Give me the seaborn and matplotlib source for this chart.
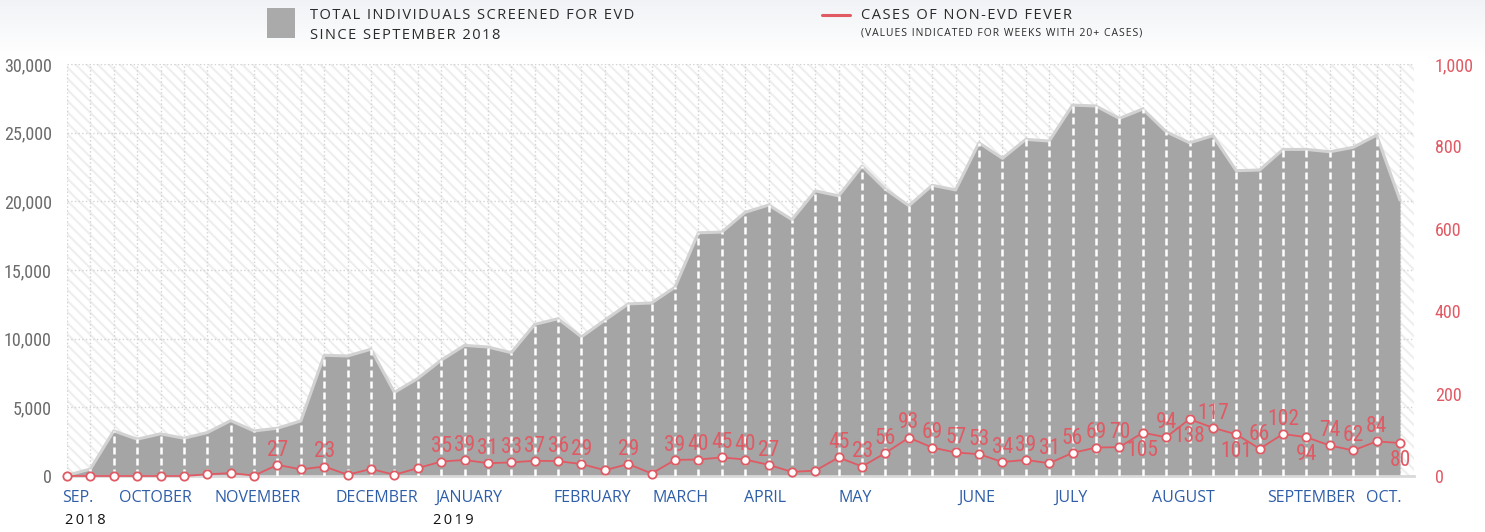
import numpy as np
import pandas as pd
import seaborn as sns
import matplotlib.pyplot as plt
from matplotlib import font_manager
from matplotlib.patches import Rectangle
from matplotlib.lines import Line2D
import matplotlib.transforms as mtransforms

# weekly values, Sep 2018 -> Oct 2019
screened = [50, 500, 3280, 2680, 3070, 2750, 3160, 4030, 3280, 3480,
            4010, 8790, 8740, 9230, 6090, 7100, 8430, 9510, 9390, 8980,
            11040, 11450, 10130, 11350, 12530, 12600, 13750, 17710, 17760, 19200,
            19730, 18670, 20760, 20400, 22560, 20880, 19680, 21170, 20830, 24260,
            23130, 24510, 24390, 27010, 26940, 26040, 26720, 25070, 24260, 24780,
            22230, 22280, 23780, 23780, 23610, 23930, 24820, 20090]
fever = [0, 0, 0, 0, 0, 0, 4, 7, 1, 27,
         16, 23, 3, 17, 3, 19, 35, 39, 31, 33,
         37, 36, 29, 14, 29, 6, 39, 40, 45, 40,
         27, 10, 13, 45, 23, 56, 93, 69, 57, 53,
         34, 39, 31, 56, 69, 70, 105, 94, 138, 117,
         101, 66, 102, 94, 74, 62, 84, 80]
month_names = ["SEP.", "OCTOBER", "NOVEMBER", "DECEMBER", "JANUARY", "FEBRUARY", "MARCH",
               "APRIL", "MAY", "JUNE", "JULY", "AUGUST", "SEPTEMBER", "OCT."]
month_centers = [0.47, 3.8, 8.15, 13.27, 17.17, 22.48, 26.24,
                 29.84, 33.7, 38.9, 42.94, 47.72, 53.2, 56.29]
month_starts = [2, 11, 15, 20, 24, 28, 33, 37, 41, 45, 50, 57]
years = ["2018", "2019"]
year_starts = [-0.1, 15.66]
label_below = [46, 48, 50, 53, 57]

df = pd.DataFrame({"week": np.arange(len(screened)), "screened": screened, "fever": fever})

sns.set_theme(style="white")
plt.rcParams["font.family"] = ["Open Sans", "DejaVu Sans"]
plt.rcParams["hatch.linewidth"] = 1.5

# pick a narrow face for the numbers if one is around
installed = {f.name for f in font_manager.fontManager.ttflist}
narrow_face = "Liberation Sans"
for cand in ["Liberation Sans Narrow", "Roboto Condensed", "Open Sans Condensed",
             "DejaVu Sans Condensed", "Noto Sans Condensed"]:
    if cand in installed:
        narrow_face = cand
        break
narrow = [narrow_face, "DejaVu Sans"]
num_size = 13 if narrow_face != "Liberation Sans" else 11.5


def spaced(s):
    # rough letter spacing
    return "\u200a".join(s)


GRAY = "#a5a5a5"
RED = "#e05a64"
BLUE = "#2e5ea8"

fig = plt.figure(figsize=(14.85, 5.32), dpi=100)

# faint bluish-grey wash behind the legend, fading to white
bg = fig.add_axes([0, 0.895, 1, 0.105], zorder=-10)
top = np.array([0.945, 0.952, 0.965])
t = np.linspace(1, 0, 60).reshape(-1, 1, 1)
wash = 1 - t * (1 - top)
bg.imshow(np.repeat(wash, 2, axis=1), aspect="auto", extent=[0, 1, 0, 1], origin="upper")
bg.axis("off")

ax = fig.add_axes([0.0451, 0.1053, 0.9071, 0.7744])

# striped background
ax.add_patch(Rectangle((0, 0), 1, 1, transform=ax.transAxes, facecolor="white",
                       edgecolor="#eeeeee", linewidth=0, hatch="\\\\\\", zorder=0))
ax.set_axisbelow(True)
ax.grid(axis="y", color="#d3d3d3", linestyle=":", linewidth=1)
ax.vlines(df.week, 0, 30000, color="#d3d3d3", linestyle=":", linewidth=1, zorder=0.5)

# screened area
ax.fill_between(df.week, df.screened, color=GRAY, linewidth=0, zorder=2)
sns.lineplot(data=df, x="week", y="screened", ax=ax, color="#d2d2d2", linewidth=2.2, zorder=2.5)
ax.vlines(df.week[1:-1], 0, df.screened[1:-1], color="white", linewidth=1.8,
          linestyle=(0, (2.8, 1.6)), zorder=3)

ax.set_xlim(0, 57.6)
ax.set_ylim(0, 30000)
ax.set_yticks(range(0, 30001, 5000))
ax.set_yticklabels([f"{v:,}" for v in range(0, 30001, 5000)], family=narrow,
                   fontsize=num_size, color="#6b6b6b")
ax.set_xticks(month_centers)
ax.set_xticklabels(month_names, fontsize=11.5, color=BLUE)
ax.set_xticks(month_starts, minor=True)
ax.tick_params(axis="x", which="major", length=0, pad=10)
ax.tick_params(axis="x", which="minor", length=4, width=2, color="#d4d4d4")
ax.tick_params(axis="y", length=0, pad=11)
ax.set_xlabel("")
ax.set_ylabel("")
for s in ["left", "right", "top"]:
    ax.spines[s].set_visible(False)
ax.spines["bottom"].set_color("#d9d9d9")
ax.spines["bottom"].set_linewidth(2)

trans = mtransforms.blended_transform_factory(ax.transData, ax.transAxes)
for yr, x0 in zip(years, year_starts):
    ax.text(x0, -0.108, "\u2009".join(yr), transform=trans, ha="left",
            va="center", fontsize=10.5, color="#111111")

# fever line on right axis
ax2 = ax.twinx()
sns.lineplot(data=df, x="week", y="fever", ax=ax2, color=RED, linewidth=1.3,
             marker="o", markersize=6, markerfacecolor="white", markeredgecolor=RED,
             markeredgewidth=1.3, clip_on=False, zorder=5)
ax2.set_ylim(0, 1000)
ax2.set_yticks(range(0, 1001, 200))
ax2.set_yticklabels([f"{v:,}" for v in range(0, 1001, 200)], family=narrow,
                    fontsize=num_size, color=RED)
ax2.tick_params(axis="y", length=0, pad=15)
ax2.set_ylabel("")
ax2.grid(False)
for s in ax2.spines.values():
    s.set_visible(False)

for i, v in enumerate(fever):
    if v >= 20:
        dy, va = (-5, "top") if i in label_below else (3, "bottom")
        ax2.annotate(str(v), (i, v), xytext=(0, dy), textcoords="offset points",
                     ha="center", va=va, fontsize=num_size + 2.5, color=RED, family=narrow)

# legend
fig.patches.append(Rectangle((0.1798, 0.9286), 0.0189, 0.0564, transform=fig.transFigure,
                             facecolor="#aaaaaa", edgecolor="none"))
fig.text(0.2088, 0.9718, spaced("TOTAL INDIVIDUALS SCREENED FOR EVD"), fontsize=10.5,
         color="#2a2a2a", va="center", ha="left")
fig.text(0.2088, 0.933, spaced("SINCE SEPTEMBER 2018"), fontsize=10.5,
         color="#2a2a2a", va="center", ha="left")
fig.lines.append(Line2D([0.5535, 0.5724], [0.9718, 0.9718], transform=fig.transFigure,
                        color=RED, linewidth=2.2))
fig.text(0.5798, 0.9718, spaced("CASES OF NON-EVD FEVER"), fontsize=10.5,
         color="#2a2a2a", va="center", ha="left")
fig.text(0.5798, 0.938, spaced("(VALUES INDICATED FOR WEEKS WITH 20+ CASES)"), fontsize=7.5,
         color="#2a2a2a", va="center", ha="left")

fig.savefig("out.png", dpi=100)
